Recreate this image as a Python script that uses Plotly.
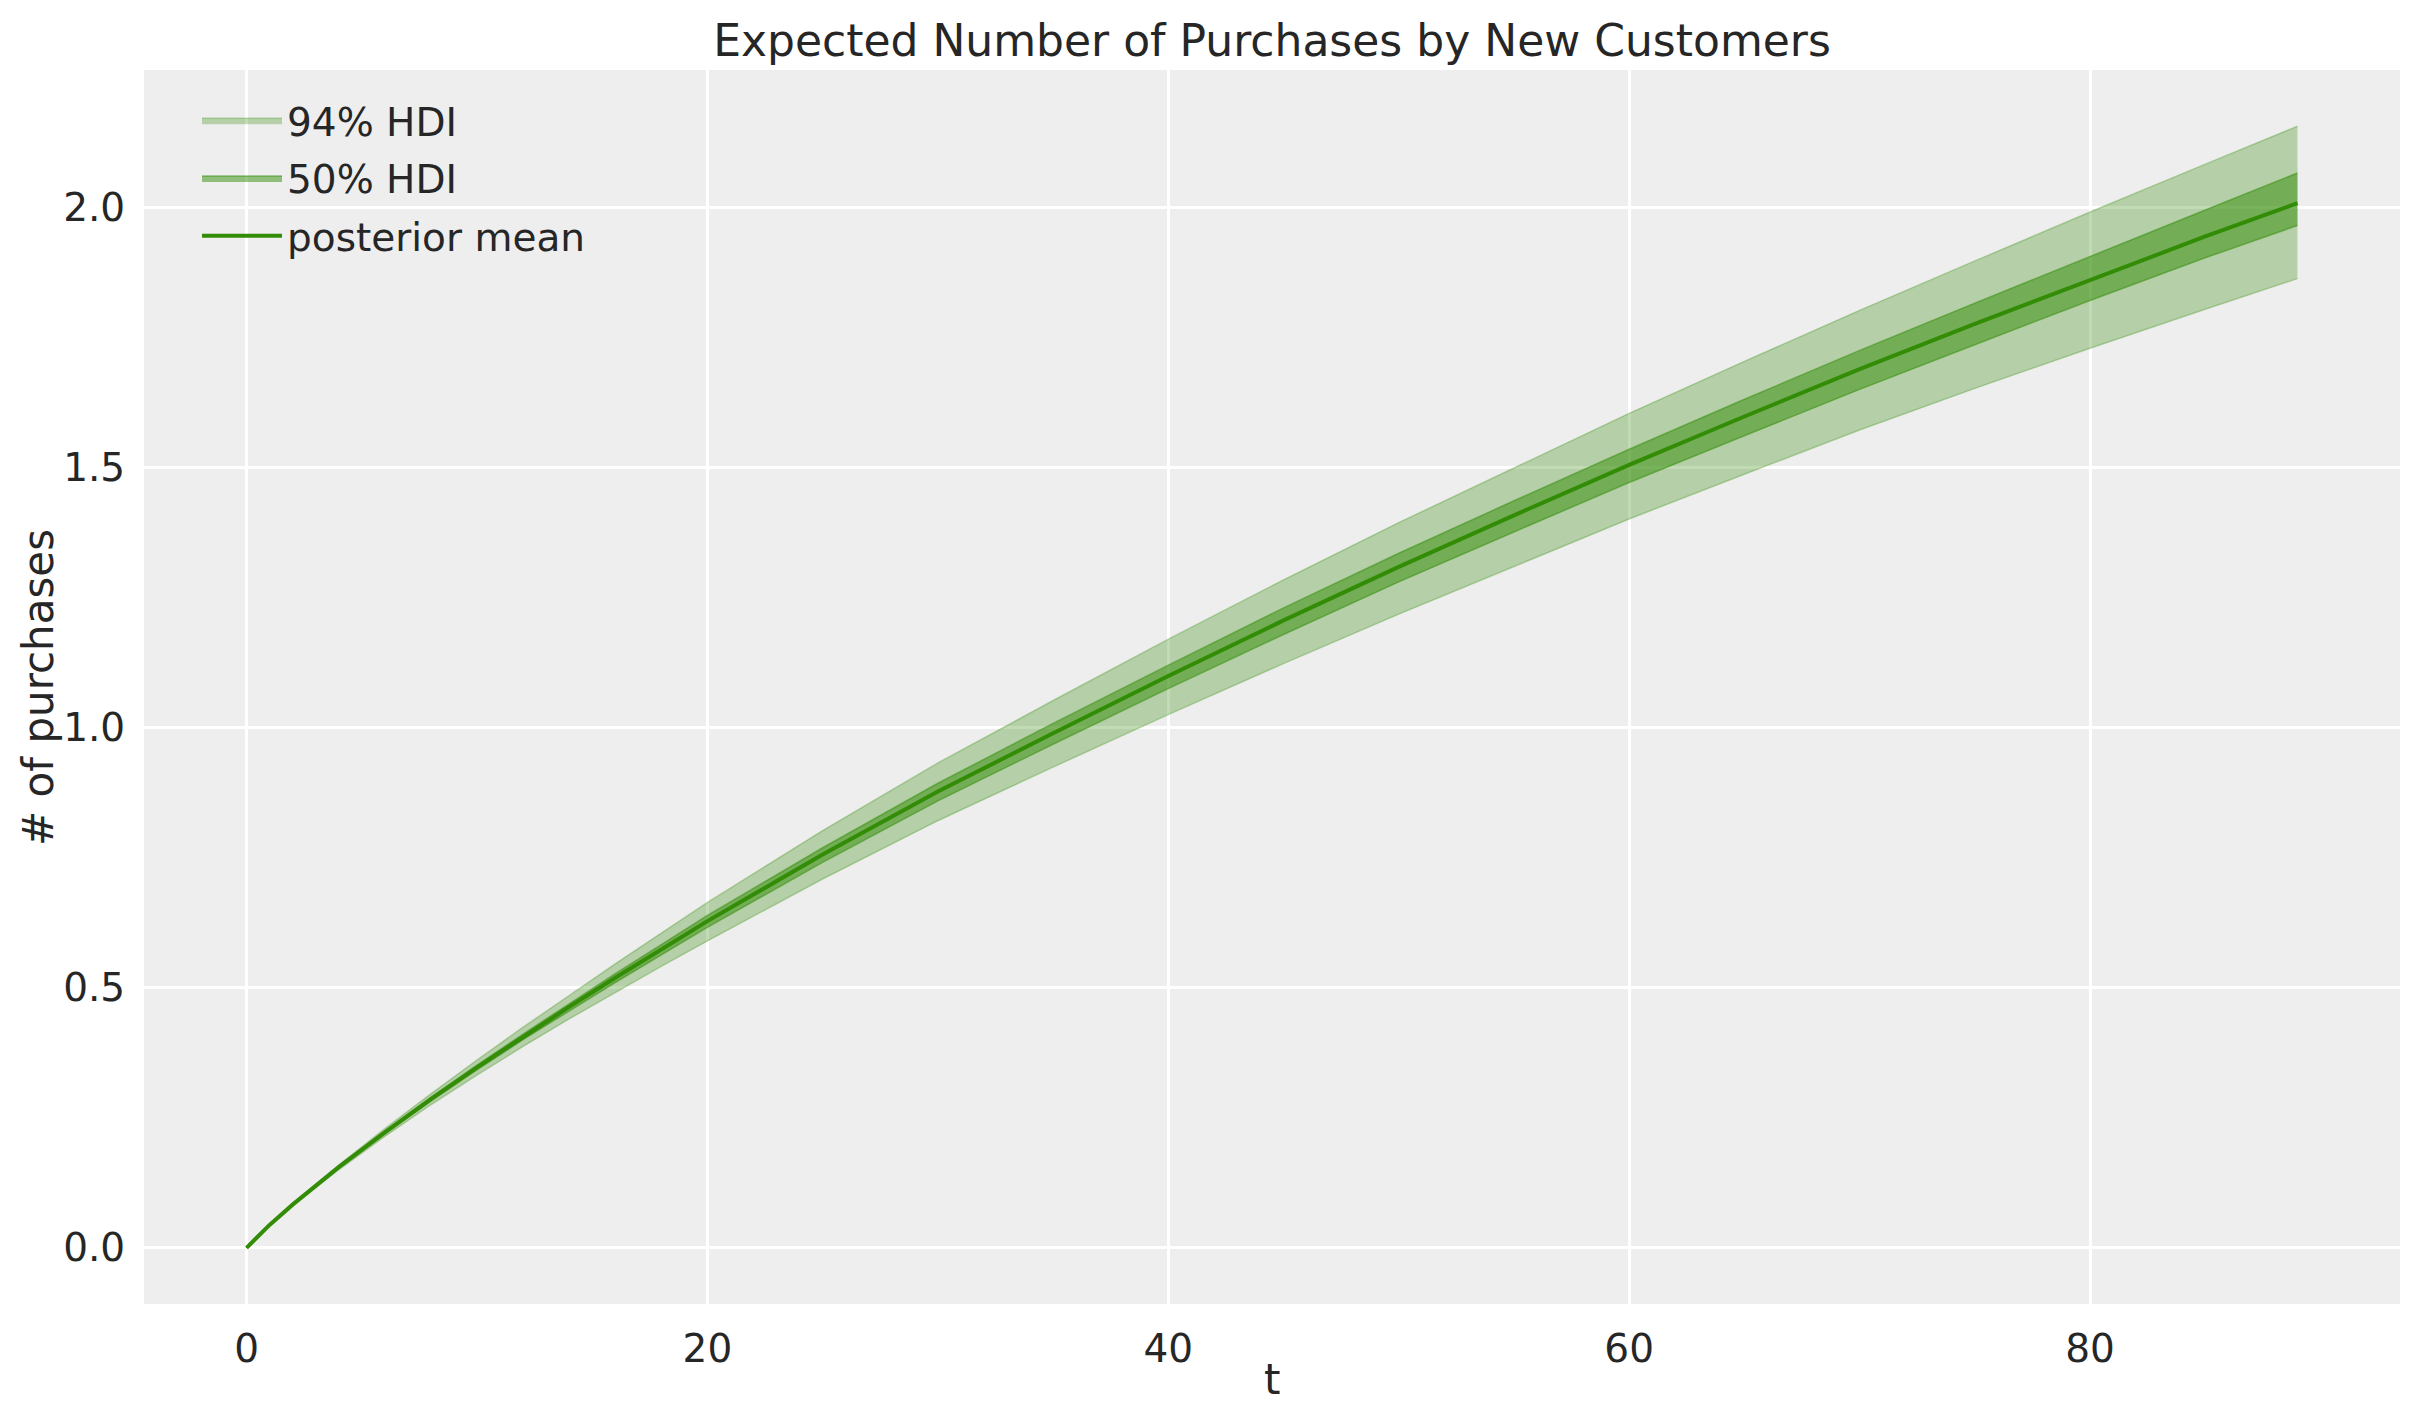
import plotly.graph_objects as go

t = [0, 1, 2, 4, 6, 8, 10, 12, 14, 16, 18, 20, 25, 30, 35, 40, 45, 50, 55, 60, 65, 70, 75, 80, 85, 89]

posterior_mean = [0, 0.044, 0.083, 0.155, 0.222, 0.286, 0.347, 0.406, 0.463, 0.519, 0.574, 0.628,
                  0.756, 0.877, 0.989, 1.099, 1.206, 1.309, 1.408, 1.505, 1.598, 1.689, 1.776,
                  1.861, 1.944, 2.008]
hdi94_high = [0, 0.045, 0.085, 0.159, 0.229, 0.296, 0.361, 0.424, 0.485, 0.546, 0.605, 0.664,
              0.802, 0.932, 1.052, 1.170, 1.284, 1.394, 1.499, 1.604, 1.704, 1.802, 1.897,
              1.991, 2.083, 2.156]
hdi94_low = [0, 0.043, 0.081, 0.150, 0.214, 0.275, 0.332, 0.387, 0.440, 0.491, 0.541, 0.590,
             0.709, 0.821, 0.924, 1.025, 1.123, 1.218, 1.310, 1.401, 1.487, 1.572, 1.652,
             1.729, 1.804, 1.863]
hdi50_high = [0, 0.045, 0.084, 0.157, 0.224, 0.289, 0.351, 0.411, 0.469, 0.527, 0.583, 0.639,
              0.769, 0.893, 1.008, 1.120, 1.230, 1.335, 1.436, 1.535, 1.631, 1.725, 1.816,
              1.906, 1.995, 2.066]
hdi50_low = [0, 0.043, 0.082, 0.153, 0.219, 0.282, 0.342, 0.400, 0.455, 0.510, 0.563, 0.616,
             0.741, 0.859, 0.968, 1.075, 1.179, 1.280, 1.376, 1.471, 1.561, 1.650, 1.736,
             1.821, 1.903, 1.965]

x_ticks = [0, 20, 40, 60, 80]
y_ticks = [0.0, 0.5, 1.0, 1.5, 2.0]

GREEN = "#328c06"
FILL94 = "rgba(50,140,6,0.3)"
FILL50 = "rgba(50,140,6,0.5)"
FONT = "DejaVu Sans"
TXT = "#262626"

fig = go.Figure()

fig.add_trace(go.Scatter(x=t, y=hdi94_low, mode="lines", line=dict(color=FILL94, width=1.5),
                         showlegend=False, legendgroup="g94", hoverinfo="skip"))
fig.add_trace(go.Scatter(x=t, y=hdi94_high, mode="lines", line=dict(color=FILL94, width=1.5),
                         fill="tonexty", fillcolor=FILL94, name="94% HDI", legendgroup="g94"))
fig.add_trace(go.Scatter(x=t, y=hdi50_low, mode="lines", line=dict(color=FILL50, width=1.5),
                         showlegend=False, legendgroup="g50", hoverinfo="skip"))
fig.add_trace(go.Scatter(x=t, y=hdi50_high, mode="lines", line=dict(color=FILL50, width=1.5),
                         fill="tonexty", fillcolor=FILL50, name="50% HDI", legendgroup="g50"))
fig.add_trace(go.Scatter(x=t, y=posterior_mean, mode="lines", line=dict(color=GREEN, width=4),
                         name="posterior mean", legendgroup="gm"))

# the page body adds an 8px offset; the figure is sized so that it still fits the window
fig.update_layout(
    width=2415, height=1415,
    margin=dict(l=136, r=23, t=62, b=119, autoexpand=False),
    paper_bgcolor="white",
    plot_bgcolor="#eeeeee",
    font=dict(family=FONT, size=39, color=TXT),
    title=dict(text="Expected Number of Purchases by New Customers",
               x=0.5, xref="paper", xanchor="center",
               y=1 - 33 / 1415, yref="container", yanchor="middle",
               font=dict(family=FONT, size=44, color=TXT)),
    legend=dict(x=0.0235, y=0.985, xanchor="left", yanchor="top",
                bgcolor="rgba(0,0,0,0)", borderwidth=0,
                font=dict(family=FONT, size=39, color=TXT),
                itemwidth=80, tracegroupgap=4),
    xaxis=dict(range=[-4.45, 93.45], tickvals=x_ticks, ticktext=[str(v) for v in x_ticks],
               showgrid=True, gridcolor="white", gridwidth=2.5, zeroline=False,
               showline=False, ticks="outside", ticklen=10, tickcolor="rgba(0,0,0,0)",
               automargin=False,
               tickfont=dict(family=FONT, size=39, color=TXT)),
    yaxis=dict(range=[-0.108, 2.264], tickvals=y_ticks, ticktext=[f"{v:.1f}" for v in y_ticks],
               showgrid=True, gridcolor="white", gridwidth=2.5, zeroline=False,
               showline=False, ticks="outside", ticklen=10, tickcolor="rgba(0,0,0,0)",
               automargin=False,
               tickfont=dict(family=FONT, size=39, color=TXT)),
    annotations=[
        dict(text="t", xref="paper", yref="paper", x=0.5, y=-0.0608,
             xanchor="center", yanchor="middle", showarrow=False,
             font=dict(family=FONT, size=42, color=TXT)),
        dict(text="# of purchases", xref="paper", yref="paper", x=-0.047, y=0.5,
             xanchor="center", yanchor="middle", textangle=-90, showarrow=False,
             font=dict(family=FONT, size=42, color=TXT)),
    ],
)

fig.write_html("out.html")
